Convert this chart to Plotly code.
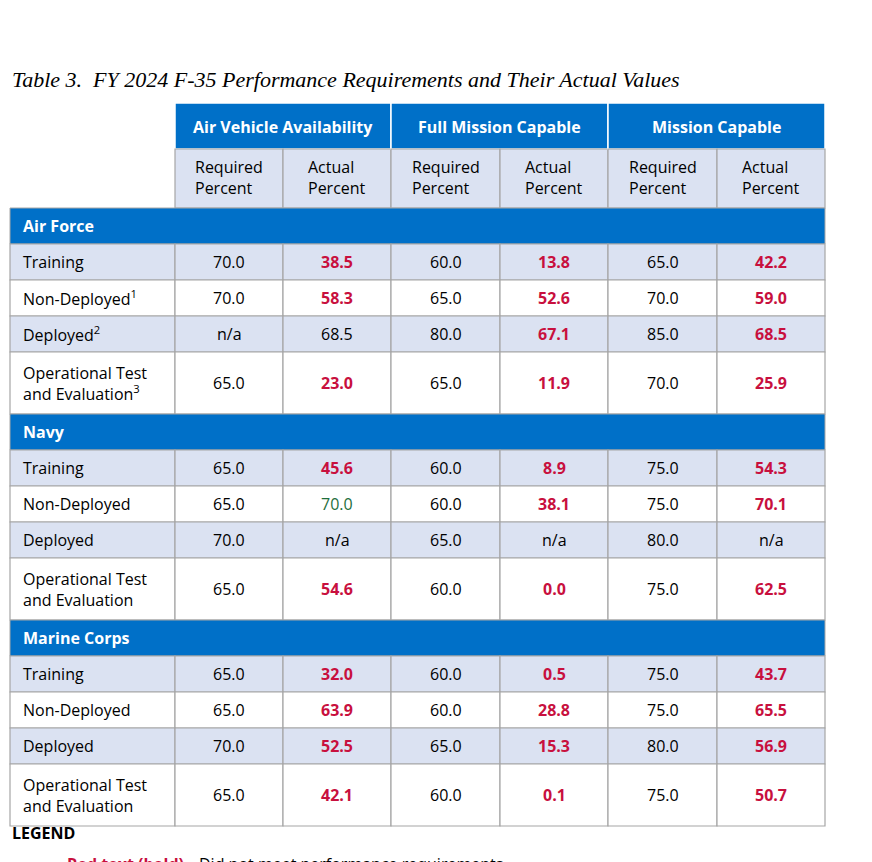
import plotly.graph_objects as go

title = "Table 3.  FY 2024 F-35 Performance Requirements and Their Actual Values"
metrics = ["Air Vehicle Availability", "Full Mission Capable", "Mission Capable"]
services = ["Air Force", "Navy", "Marine Corps"]
row_labels = [
    ["Training", "Non-Deployed<sup>1</sup>", "Deployed<sup>2</sup>", "Operational Test<br>and Evaluation<sup>3</sup>"],
    ["Training", "Non-Deployed", "Deployed", "Operational Test<br>and Evaluation"],
    ["Training", "Non-Deployed", "Deployed", "Operational Test<br>and Evaluation"],
]
# per row: AVA req, AVA act, FMC req, FMC act, MC req, MC act
air_force = [
    ["70.0", "38.5", "60.0", "13.8", "65.0", "42.2"],
    ["70.0", "58.3", "65.0", "52.6", "70.0", "59.0"],
    ["n/a", "68.5", "80.0", "67.1", "85.0", "68.5"],
    ["65.0", "23.0", "65.0", "11.9", "70.0", "25.9"],
]
navy = [
    ["65.0", "45.6", "60.0", "8.9", "75.0", "54.3"],
    ["65.0", "70.0", "60.0", "38.1", "75.0", "70.1"],
    ["70.0", "n/a", "65.0", "n/a", "80.0", "n/a"],
    ["65.0", "54.6", "60.0", "0.0", "75.0", "62.5"],
]
marine_corps = [
    ["65.0", "32.0", "60.0", "0.5", "75.0", "43.7"],
    ["65.0", "63.9", "60.0", "28.8", "75.0", "65.5"],
    ["70.0", "52.5", "65.0", "15.3", "80.0", "56.9"],
    ["65.0", "42.1", "60.0", "0.1", "75.0", "50.7"],
]
service_data = [air_force, navy, marine_corps]

BLUE = "#0070c8"
LIGHT = "#dbe2f2"
GRID = "#a6a6a6"
RED = "#c8103e"
GREEN = "#1e6e3c"
FONT = "Open Sans"
FS = 16

col_x = [10, 175, 283, 391, 500, 608, 717, 825]
row_h = [36, 36, 36, 62]
sec_h = 36

shapes, annos = [], []

def rect(x0, y0, x1, y1, fill):
    shapes.append(dict(type="rect", x0=x0, x1=x1, y0=y0, y1=y1, fillcolor=fill,
                       line=dict(color=GRID, width=1.2), layer="below"))

def text(x, y, s, color="black", size=FS, bold=False, anchor="center", family=FONT):
    if bold:
        s = "<b>" + s + "</b>"
    annos.append(dict(x=x, y=y, text=s, showarrow=False, xanchor=anchor, yanchor="middle",
                      font=dict(family=family, size=size, color=color), align="left"))

# title
text(10, 79, "<i>" + title + "</i>", anchor="left", size=22, family="Liberation Serif")

# header rows
for i, m in enumerate(metrics):
    x0, x1 = col_x[1 + 2 * i], col_x[3 + 2 * i]
    shapes.append(dict(type="rect", x0=x0, x1=x1, y0=103, y1=149, fillcolor=BLUE,
                       line=dict(color="white", width=1.5), layer="below"))
    text((x0 + x1) / 2, 127, m, color="white", bold=True)
    for j, sub in enumerate(["Required<br>Percent", "Actual<br>Percent"]):
        a, b = col_x[1 + 2 * i + j], col_x[2 + 2 * i + j]
        rect(a, 149, b, 208, LIGHT)
        text((a + b) / 2, 177, sub)

y = 208
for s, labels, rows in zip(services, row_labels, service_data):
    shapes.append(dict(type="rect", x0=col_x[0], x1=col_x[-1], y0=y, y1=y + sec_h,
                       fillcolor=BLUE, line=dict(color=GRID, width=1), layer="below"))
    text(col_x[0] + 11, y + sec_h / 2, s, color="white", bold=True, anchor="left")
    y += sec_h
    for r, (lab, vals) in enumerate(zip(labels, rows)):
        h = row_h[r]
        fill = LIGHT if r % 2 == 0 else "white"
        rect(col_x[0], y, col_x[1], y + h, fill)
        text(col_x[0] + 11, y + h / 2, lab, anchor="left")
        for c, v in enumerate(vals):
            a, b = col_x[1 + c], col_x[2 + c]
            rect(a, y, b, y + h, fill)
            color, bold = "black", False
            if c % 2 == 1:
                req = vals[c - 1]
                if v != "n/a" and req != "n/a":
                    if float(v) >= float(req):
                        color = GREEN
                    else:
                        color, bold = RED, True
            text((a + b) / 2, y + h / 2, v, color=color, bold=bold)
        y += h

text(10, 833, "LEGEND", bold=True, anchor="left")
text(65, 864, "<b>Red text (bold)</b>", color=RED, anchor="left")
text(197, 864, "Did not meet performance requirements", anchor="left")

fig = go.Figure()
fig.update_layout(
    width=872, height=862, margin=dict(l=0, r=0, t=0, b=0),
    paper_bgcolor="white", plot_bgcolor="white",
    # page body is offset by 8px, so shift the pixel frame to compensate
    xaxis=dict(range=[8, 880], visible=False, fixedrange=True),
    yaxis=dict(range=[870, 8], visible=False, fixedrange=True),
    shapes=shapes, annotations=annos, showlegend=False,
)
fig.write_html("out.html")
